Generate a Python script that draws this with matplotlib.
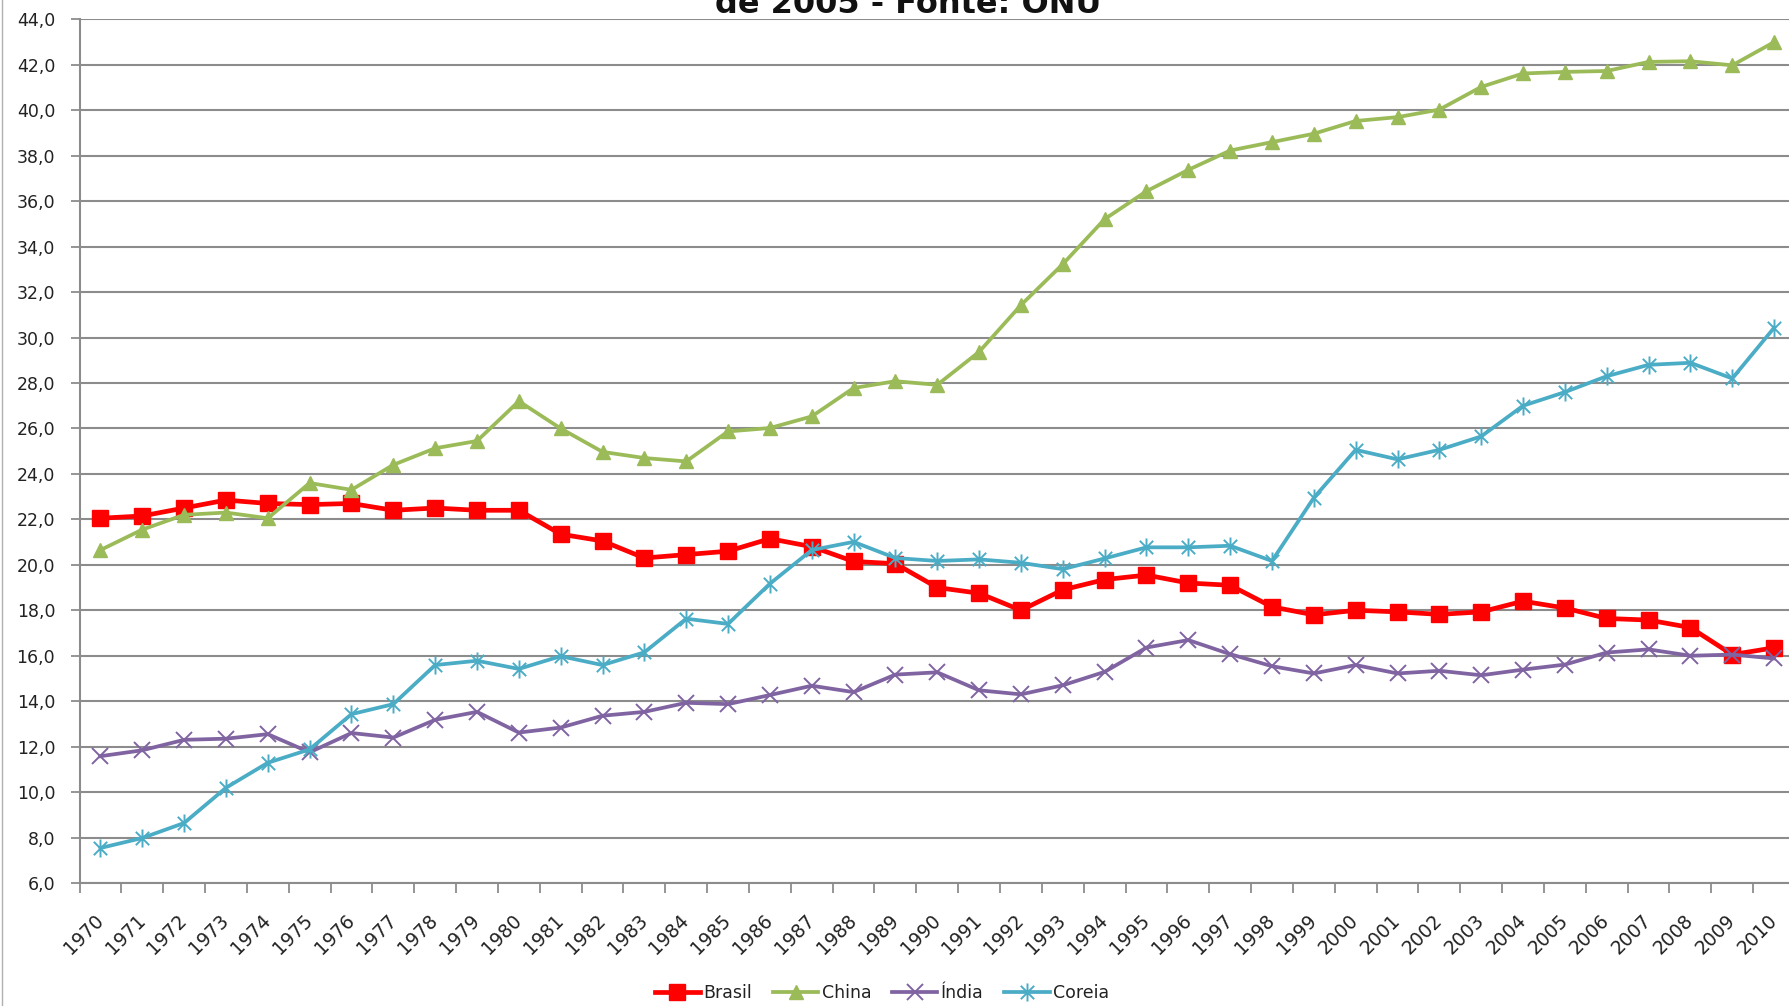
import numpy as np
import matplotlib.pyplot as plt
from matplotlib.path import Path
from matplotlib.lines import Line2D

# --- Dados ---
anos = list(range(1970, 2011))

brasil = [22.05, 22.15, 22.5, 22.85, 22.7, 22.65, 22.7, 22.4, 22.5, 22.4,
          22.4, 21.35, 21.05, 20.3, 20.45, 20.6, 21.15, 20.8, 20.15, 20.05,
          19.0, 18.75, 18.0, 18.9, 19.35, 19.55, 19.2, 19.1, 18.15, 17.8,
          18.0, 17.93, 17.82, 17.93, 18.4, 18.1, 17.64, 17.57, 17.24, 16.05,
          16.35]

china = [20.65, 21.55, 22.2, 22.3, 22.05, 23.6, 23.3, 24.4, 25.13, 25.45,
         27.2, 26.0, 24.97, 24.7, 24.55, 25.87, 26.02, 26.53, 27.78, 28.08,
         27.92, 29.37, 31.43, 33.23, 35.21, 36.44, 37.38, 38.23, 38.6, 38.97,
         39.53, 39.7, 40.03, 41.03, 41.62, 41.69, 41.73, 42.13, 42.16, 41.98,
         43.0]

india = [11.58, 11.84, 12.3, 12.35, 12.55, 11.75, 12.6, 12.4, 13.18, 13.53,
         12.62, 12.84, 13.36, 13.53, 13.93, 13.87, 14.27, 14.68, 14.4, 15.17,
         15.27, 14.48, 14.3, 14.7, 15.29, 16.36, 16.69, 16.07, 15.54, 15.22,
         15.59, 15.22, 15.34, 15.14, 15.39, 15.61, 16.14, 16.28, 16.0, 16.05,
         15.88]

coreia = [7.54, 7.98, 8.64, 10.19, 11.29, 11.88, 13.43, 13.87, 15.59, 15.78,
          15.42, 15.98, 15.59, 16.15, 17.63, 17.4, 19.17, 20.65, 21.01, 20.3,
          20.17, 20.24, 20.09, 19.81, 20.28, 20.77, 20.77, 20.84, 20.17, 22.95,
          25.06, 24.64, 25.06, 25.65, 27.0, 27.6, 28.3, 28.8, 28.89, 28.2,
          30.43]

y_ticks = np.arange(6, 46, 2)
y_labels = [f"{v:.1f}".replace('.', ',') for v in y_ticks]

titulo = "de 2005 - Fonte: ONU"

# --- Estilo ---
plt.rcParams['font.family'] = ['DejaVu Sans']
cinza = '#8c8c8c'
texto = '#222222'

# marcador asterisco (x + barra vertical), como no Excel
asterisco = Path([(-1, -1), (1, 1), (-1, 1), (1, -1), (0, -1.35), (0, 1.35)],
                 [Path.MOVETO, Path.LINETO, Path.MOVETO, Path.LINETO,
                  Path.MOVETO, Path.LINETO])

fig = plt.figure(figsize=(17.89, 10.06), dpi=100)
W, H = 1789, 1006
ax = fig.add_axes([79.5 / W, 1 - 883 / H, (1795 - 79.5) / W, (883 - 19.4) / H])

ax.plot(anos, brasil, color='#ff0000', lw=3.4, marker='s', ms=11,
        label='Brasil', zorder=3)
ax.plot(anos, china, color='#9bbb59', lw=2.7, marker='^', ms=10.5,
        label='China', zorder=3)
ax.plot(anos, india, color='#8064a2', lw=2.7, marker='x', ms=11, mew=1.4,
        label='Índia', zorder=3)
ax.plot(anos, coreia, color='#4bacc6', lw=2.7, marker=asterisco, ms=13,
        mew=1.4, label='Coreia', zorder=3)

ax.set_ylim(6, 44)
ax.set_xlim(anos[0] - 0.5, anos[-1] + 0.5)

ax.set_yticks(y_ticks)
ax.set_yticklabels(y_labels, fontsize=12.5, color=texto)
ax.yaxis.grid(True, color=cinza, lw=1.5)
ax.set_axisbelow(True)

ax.set_xticks(anos)
ax.set_xticklabels([str(a) for a in anos], fontsize=13.5, color=texto,
                   rotation=45, ha='right', va='center', rotation_mode='anchor')
ax.set_xticks(np.arange(anos[0] - 0.5, anos[-1] + 1), minor=True)
ax.tick_params(axis='x', which='major', length=0, pad=25)
ax.tick_params(axis='x', which='minor', length=7, width=1.3, color=cinza)
ax.tick_params(axis='y', length=6.5, width=1.3, color=cinza, pad=11)

for s in ['top', 'right']:
    ax.spines[s].set_visible(False)
for s in ['left', 'bottom']:
    ax.spines[s].set_color(cinza)
    ax.spines[s].set_linewidth(1.5)

fig.text(908 / W, 1 - 13 / H, titulo, ha='center', va='baseline',
         fontsize=23, fontweight='bold', color='#111111')

leg = ax.legend(loc='center', bbox_to_anchor=(882 / W, 13 / H),
                bbox_transform=fig.transFigure, ncol=4, frameon=False,
                fontsize=12.5, handlelength=2.6, handletextpad=0.2,
                columnspacing=1.2)
for t in leg.get_texts():
    t.set_color(texto)

# borda esquerda da área do gráfico
fig.add_artist(Line2D([1.5 / W, 1.5 / W], [0, 1], transform=fig.transFigure,
                      color='#b0b0b0', lw=1))

fig.savefig('out.png', dpi=100)
